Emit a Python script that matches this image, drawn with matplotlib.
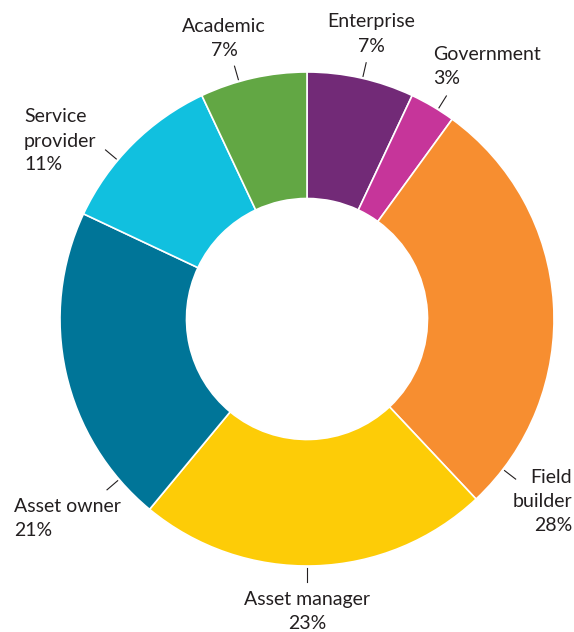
import numpy as np
import matplotlib.pyplot as plt

plt.rcParams['font.family'] = ['Lato', 'DejaVu Sans']

# data (clockwise from 12 o'clock)
categories = ['Enterprise', 'Government', 'Field builder', 'Asset manager',
              'Asset owner', 'Service provider', 'Academic']
shares = [7, 3, 28, 23, 21, 11, 7]
colors = ['#722a77', '#c6359a', '#f78e30', '#fdcc07', '#007598', '#11c0df', '#62a744']

# label layout: text lines, tick angle, anchor x, first baseline (pixel coords, y down), alignment
label_lines = [['Enterprise', '7%'], ['Government', '3%'], ['Field', 'builder', '28%'],
               ['Asset manager', '23%'], ['Asset owner', '21%'],
               ['Service', 'provider', '11%'], ['Academic', '7%']]
tick_angles = [77, 58, -37.5, -90, -139.5, 140, 106]
label_x = [371, 433, 572, 307, 14, 24, 224]
label_y = [27.5, 60, 483, 605, 511.5, 122.5, 32]
label_ha = ['center', 'left', 'right', 'center', 'left', 'left', 'center']

W, H = 574, 632
cx, cy = 307, H - 319
r_out, r_in = 247, 120.5

fig = plt.figure(figsize=(W / 100, H / 100), dpi=100)
ax = fig.add_axes([0, 0, 1, 1])

ax.pie(shares, colors=colors, startangle=90, counterclock=False,
       radius=r_out, center=(cx, cy),
       wedgeprops=dict(width=r_out - r_in, edgecolor='white', linewidth=1.2))

ax.set_xlim(0, W)
ax.set_ylim(0, H)
ax.set_aspect('equal')
ax.axis('off')

txt_color = '#231f20'
for lines, ang, x, y0, ha in zip(label_lines, tick_angles, label_x, label_y, label_ha):
    a = np.deg2rad(ang)
    ax.plot([cx + 249 * np.cos(a), cx + 263 * np.cos(a)],
            [cy + 249 * np.sin(a), cy + 263 * np.sin(a)],
            color=txt_color, lw=0.8)
    for i, s in enumerate(lines):
        ax.text(x, H - (y0 + 24 * i), s, ha=ha, va='baseline',
                fontsize=14, color=txt_color)

fig.savefig('out.png', dpi=100)
